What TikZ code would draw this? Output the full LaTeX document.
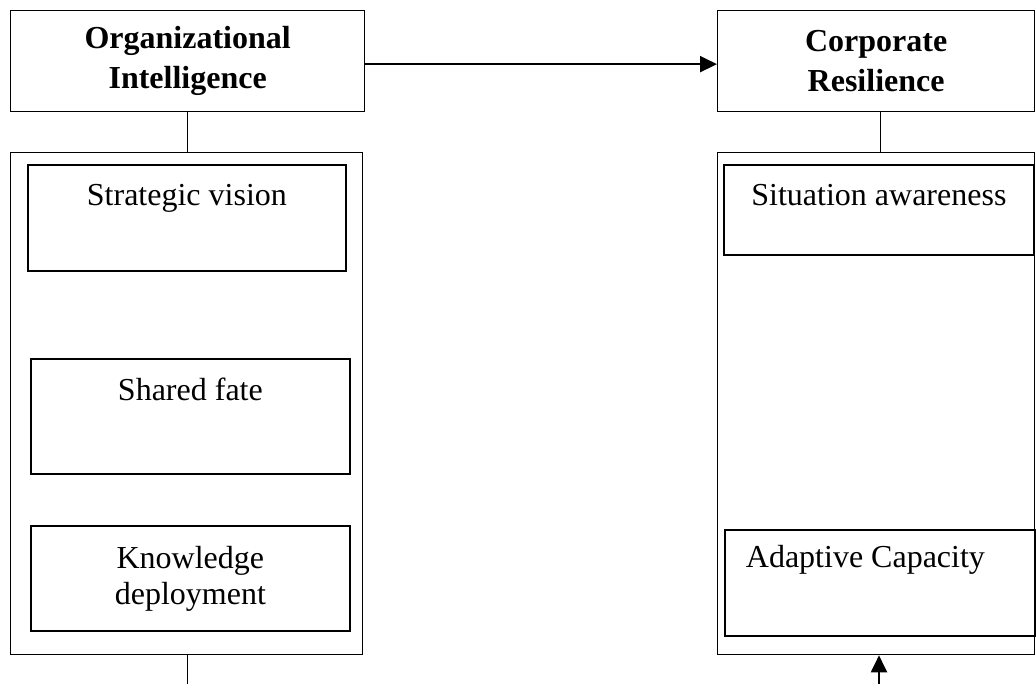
\documentclass[tikz,border=0pt]{standalone}
\usepackage{fontspec}
\setmainfont{Liberation Serif}
\usetikzlibrary{arrows.meta}

\begin{document}
\begin{tikzpicture}[x={(1pt,0pt)}, y={(0pt,-1pt)},
  title/.style={draw, line width=1.3, anchor=north west, inner sep=0pt, align=center, font=\fontsize{32}{40}\selectfont\bfseries},
  frame/.style={draw, line width=1.3, anchor=north west, inner sep=0pt},
  item/.style={draw, line width=1.8, anchor=north west, inner sep=0pt, align=center, font=\fontsize{32}{36}\selectfont},
  arr/.style={line width=2, -{Triangle[length=17pt, width=16pt]}}]

 \useasboundingbox (0,0) rectangle (1036,684) ;

  %%%%%%%%%% Titres %%%%%%%%%%
 \node [title, minimum width=354pt, minimum height=101pt] (oi) at (10,10) {Organizational\\Intelligence} ;
 \node [title, minimum width=317pt, minimum height=101pt] (cr) at (717,10) {Corporate\\Resilience} ;

  %%%%%%%%%% Cadres %%%%%%%%%%
 \node [frame, minimum width=352pt, minimum height=502pt] (oiframe) at (10,152) {} ;
 \node [frame, minimum width=317pt, minimum height=502pt] (crframe) at (717,152) {} ;

 % Left column
 \node [item, minimum width=318pt, text height=41pt, text depth=65pt] (sv) at (27,164) {Strategic vision} ;
 \node [item, minimum width=319pt, text height=42pt, text depth=73pt] (sf) at (30,358) {Shared fate} ;
 \node [item, minimum width=319pt, minimum height=105pt] (kd) at (30,525) {Knowledge\\deployment} ;

 % Right column
 \node [item, minimum width=310pt, text height=41pt, text depth=49pt] (sa) at (723,164) {Situation awareness} ;
 \node [item, align=flush left, inner xsep=21pt, text width=268pt, text height=38pt, text depth=68pt] (ac) at (724,529) {Adaptive Capacity} ;

  %%%%%%%%%% Liens %%%%%%%%%%
 \coordinate (lend) at (187,684) ;
 \coordinate (rend) at (879,684) ;

 \draw [line width=1] (oi.south) -- (oi.south |- oiframe.north) ;
 \draw [line width=1] ([xshift=4.5pt]cr.south) -- ([xshift=4.5pt]cr.south |- crframe.north) ;
 \draw [line width=1] (lend |- oiframe.south) -- (lend) ;

 \draw [arr] ([yshift=-3pt]oi.east) -- ([yshift=-3pt]cr.west) ;
 \draw [arr] (rend) -- (rend |- crframe.south) ;

\end{tikzpicture}
\end{document}
